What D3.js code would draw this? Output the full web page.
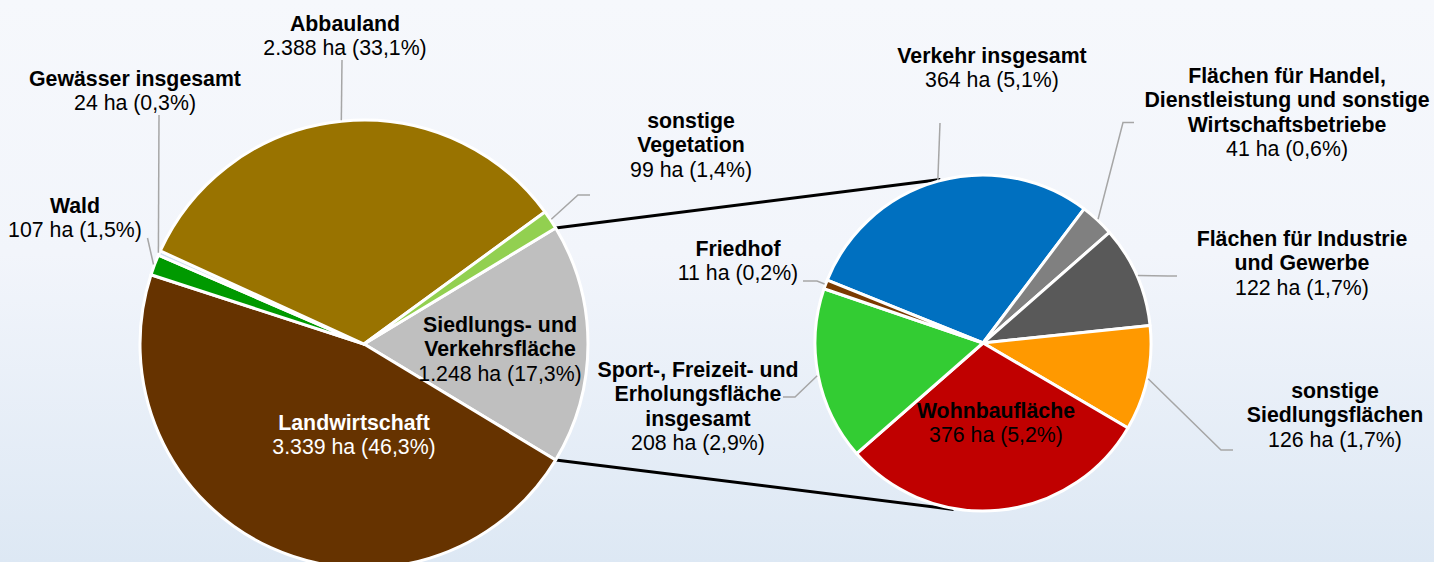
<!DOCTYPE html>
<html>
<head>
<meta charset="utf-8">
<script src="https://cdn.jsdelivr.net/npm/d3@7"></script>
<style>
  body { margin: 0; }
  text { font-family: "Liberation Sans", Arial, sans-serif; font-size: 21.3px; }
</style>
</head>
<body>
<div id="chart"></div>
<script>
// Hauptkreis: Flächennutzung gesamt (ha)
const mainNames = ["Siedlungs- und\nVerkehrsfläche", "Landwirtschaft", "Wald", "Gewässer insgesamt", "Abbauland", "sonstige\nVegetation"];
const mainValues = [1248, 3339, 107, 24, 2388, 99];
const mainColors = ["#bfbfbf", "#663300", "#009900", "#cfe0f1", "#997300", "#92d050"];

// Zweiter Kreis: Aufteilung Siedlungs- und Verkehrsfläche (ha)
const subNames = ["Verkehr insgesamt", "Flächen für Handel,\nDienstleistung und sonstige\nWirtschaftsbetriebe", "Flächen für Industrie\nund Gewerbe", "sonstige\nSiedlungsflächen", "Wohnbaufläche", "Sport-, Freizeit- und\nErholungsfläche\ninsgesamt", "Friedhof"];
const subValues = [364, 41, 122, 126, 376, 208, 11];
const subColors = ["#0070c0", "#808080", "#595959", "#ff9900", "#c00000", "#33cc33", "#7a3a00"];

const width = 1434, height = 562;
const total = d3.sum(mainValues);

const de = d3.formatLocale({ decimal: ",", thousands: ".", grouping: [3], currency: ["", " €"] });
const fmtHa = de.format(",.0f");
const fmtPct = de.format(".1f");

const svg = d3.select("#chart").append("svg")
    .attr("width", width)
    .attr("height", height);

// Hintergrund mit leichtem Verlauf
const grad = svg.append("defs").append("linearGradient")
    .attr("id", "bg").attr("x1", 0).attr("y1", 0).attr("x2", 0).attr("y2", 1);
grad.append("stop").attr("offset", "0%").attr("stop-color", "#f6f8fc");
grad.append("stop").attr("offset", "45%").attr("stop-color", "#f2f5fb");
grad.append("stop").attr("offset", "100%").attr("stop-color", "#dde8f4");
svg.append("rect").attr("width", width).attr("height", height).attr("fill", "url(#bg)");

const deg = Math.PI / 180;

// Geometrie der beiden Kreise
const main = { cx: 364, cy: 344, r: 224 };
const sub = { cx: 983, cy: 343, r: 168 };

const mainShare = mainValues[0] / total * 2 * Math.PI;
const mainPie = d3.pie().sort(null)
    .startAngle(Math.PI / 2 - mainShare / 2)
    .endAngle(Math.PI / 2 - mainShare / 2 + 2 * Math.PI);
const subPie = d3.pie().sort(null)
    .startAngle(-68 * deg)
    .endAngle(-68 * deg + 2 * Math.PI);

const mainArcs = mainPie(mainValues);
const subArcs = subPie(subValues);

function polar(c, r, a) {
    return [c.cx + r * Math.sin(a), c.cy - r * Math.cos(a)];
}

// Verbindungslinien zwischen den Kreisen
const conn = [
    [polar(main, main.r, mainArcs[0].startAngle), polar(sub, sub.r + 1, -14.6 * deg)],
    [polar(main, main.r, mainArcs[0].endAngle), polar(sub, sub.r + 1, 190 * deg)]
];
svg.selectAll(".conn")
    .data(conn)
    .join("line")
    .attr("class", "conn")
    .attr("x1", d => d[0][0]).attr("y1", d => d[0][1])
    .attr("x2", d => d[1][0]).attr("y2", d => d[1][1])
    .attr("stroke", "#000")
    .attr("stroke-width", 3);

function drawPie(c, arcs, colors) {
    const arc = d3.arc().innerRadius(0).outerRadius(c.r);
    svg.append("g")
        .attr("transform", `translate(${c.cx},${c.cy})`)
        .selectAll("path")
        .data(arcs)
        .join("path")
        .attr("d", arc)
        .attr("fill", (d, i) => colors[i])
        .attr("stroke", "#fff")
        .attr("stroke-width", 3)
        .attr("stroke-linejoin", "round");
}
drawPie(main, mainArcs, mainColors);
drawPie(sub, subArcs, subColors);

// Beschriftungen: Position (Mitte, erste Grundlinie) und Knickpunkte der Führungslinien
const mainLayout = [
    { x: 500, y: 332, leader: null, color: "#000" },
    { x: 354, y: 430, leader: null, color: "#fff" },
    { x: 75, y: 213, leader: [[147.5, 238]], color: "#000" },
    { x: 135, y: 86, leader: [[159, 115]], color: "#000" },
    { x: 345, y: 31, leader: [[342, 60]], color: "#000" },
    { x: 691, y: 128, leader: [[578, 195], [590, 195]], color: "#000" }
];
const subLayout = [
    { x: 992, y: 63, leader: [[940, 123]], color: "#000" },
    { x: 1287, y: 83, leader: [[1123, 122.5], [1134, 122.5]], color: "#000" },
    { x: 1302, y: 246, leader: [[1168, 276], [1177, 276]], color: "#000" },
    { x: 1335, y: 398, leader: [[1221, 450], [1233, 450]], color: "#000" },
    { x: 996, y: 418, leader: null, color: "#000" },
    { x: 698, y: 377, leader: [[795, 397], [783, 397]], color: "#000" },
    { x: 738, y: 256, leader: [[817, 281], [803, 281]], color: "#000" }
];

const lineH = 24.4;

function drawLabels(c, arcs, names, values, layout) {
    arcs.forEach((a, i) => {
        const L = layout[i];
        if (L.leader) {
            const mid = (a.startAngle + a.endAngle) / 2;
            const pts = [polar(c, c.r + 1, mid)].concat(L.leader);
            svg.append("path")
                .attr("d", d3.line()(pts))
                .attr("fill", "none")
                .attr("stroke", "#a6a6a6")
                .attr("stroke-width", 1.5);
        }
        const lines = names[i].split("\n");
        const t = svg.append("text")
            .attr("text-anchor", "middle")
            .attr("fill", L.color);
        lines.forEach((s, k) => {
            t.append("tspan")
                .attr("x", L.x)
                .attr("y", L.y + k * lineH)
                .attr("font-weight", "bold")
                .text(s);
        });
        t.append("tspan")
            .attr("x", L.x)
            .attr("y", L.y + lines.length * lineH)
            .text(`${fmtHa(values[i])} ha (${fmtPct(values[i] / total * 100)}%)`);
    });
}
drawLabels(main, mainArcs, mainNames, mainValues, mainLayout);
drawLabels(sub, subArcs, subNames, subValues, subLayout);
</script>
</body>
</html>
